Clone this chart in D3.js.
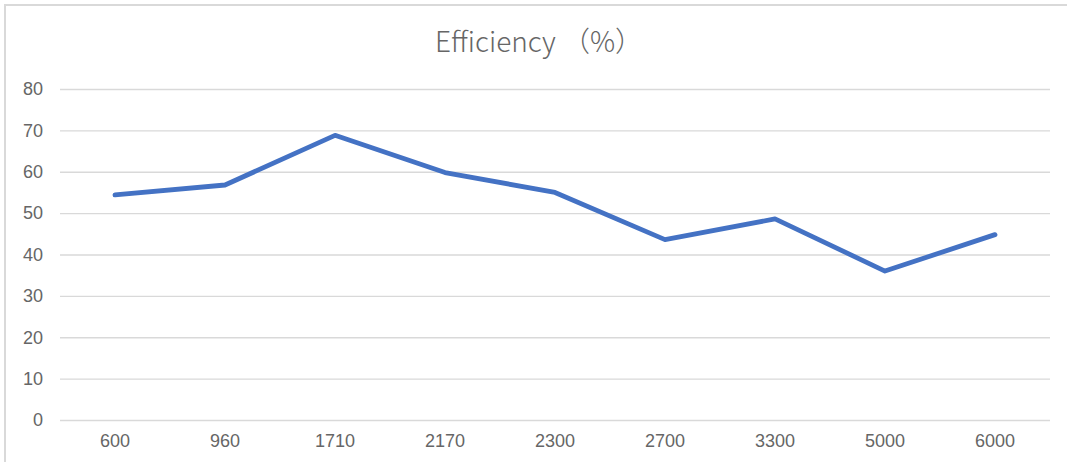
<!DOCTYPE html>
<html>
<head>
<meta charset="utf-8">
<title>Efficiency</title>
<script src="https://d3js.org/d3.v7.min.js"></script>
<style>
  body { margin: 0; background: #fff; }
  .grid line { stroke: #d9d9d9; stroke-width: 1.3; }
  .grid path { display: none; }
  .tick text { fill: #666; font-family: "Liberation Sans", Arial, sans-serif; font-size: 18px; }
</style>
</head>
<body>
<svg width="1067" height="462"></svg>
<script>
// chart data
var categories = ["600", "960", "1710", "2170", "2300", "2700", "3300", "5000", "6000"];
var efficiency = [54.4, 56.8, 68.8, 59.8, 55.0, 43.6, 48.6, 36.0, 44.8];
var yTicks = [0, 10, 20, 30, 40, 50, 60, 70, 80];
var title = "Efficiency （%）";

var svg = d3.select("svg"),
    margin = {top: 89, right: 17, bottom: 42, left: 60},
    width = 1067 - margin.left - margin.right,
    height = 462 - margin.top - margin.bottom;

// outer frame (only top and left edges visible in the crop)
svg.append("path")
    .attr("d", "M5,462V5H1067")
    .attr("fill", "none")
    .attr("stroke", "#d9d9d9")
    .attr("stroke-width", 2);

var x = d3.scaleBand().domain(categories).range([0, width]);
var y = d3.scaleLinear().domain([0, 80]).range([height, 0]);

var g = svg.append("g")
    .attr("transform", "translate(" + margin.left + "," + margin.top + ")");

// horizontal gridlines + y labels
g.append("g")
    .attr("class", "grid")
    .call(d3.axisLeft(y).tickValues(yTicks).tickSize(-width).tickPadding(17));

// x labels (no axis line)
var xAxis = g.append("g")
    .attr("class", "grid")
    .attr("transform", "translate(0," + height + ")")
    .call(d3.axisBottom(x).tickSize(0).tickPadding(14));
xAxis.selectAll("line").remove();

// line
var line = d3.line()
    .x(function(d, i) { return x(categories[i]) + x.bandwidth() / 2; })
    .y(function(d) { return y(d); });

g.append("path")
    .datum(efficiency)
    .attr("fill", "none")
    .attr("stroke", "#4472c4")
    .attr("stroke-width", 4.8)
    .attr("stroke-linejoin", "round")
    .attr("stroke-linecap", "round")
    .attr("d", line);

// title
svg.append("text")
    .attr("x", 539)
    .attr("y", 52)
    .attr("text-anchor", "middle")
    .style("font-family", "'Noto Sans CJK SC', 'Noto Sans', sans-serif")
    .style("font-size", "28px")
    .style("font-weight", 300)
    .style("fill", "#666")
    .text(title);
</script>
</body>
</html>
